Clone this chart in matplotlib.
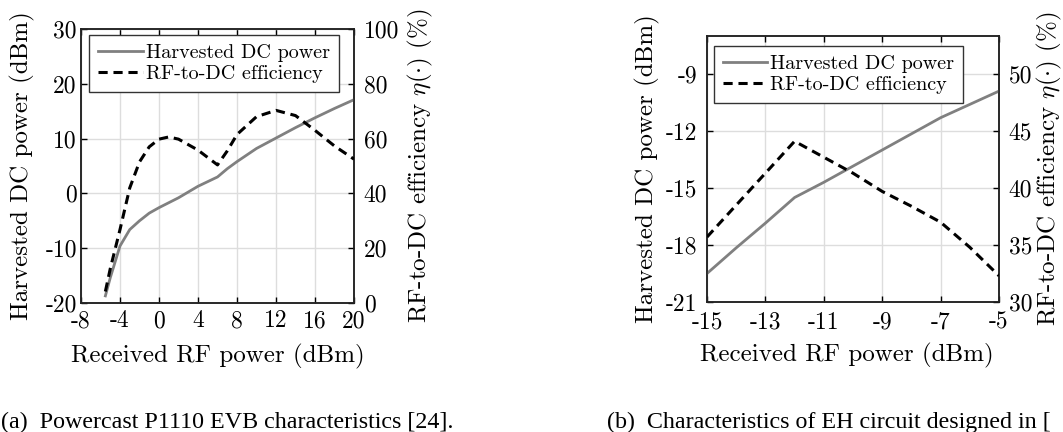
import matplotlib
matplotlib.use('Agg')
import matplotlib.pyplot as plt

# Fuentes tipo LaTeX para los ejes y Times para los pies de figura.
plt.rcParams['font.family'] = 'cmr10'
plt.rcParams['mathtext.fontset'] = 'cm'
plt.rcParams['axes.unicode_minus'] = False
plt.rcParams['axes.formatter.use_mathtext'] = True

# (a) Powercast P1110 EVB
rf_a = [-5.5, -5, -4, -3, -2, -1, 0, 1, 2, 4, 6, 7, 8, 10, 12, 14, 16, 18, 20]
dc_a = [-18.7, -15.4, -9.6, -6.6, -5.0, -3.6, -2.6, -1.7, -0.8, 1.3, 3.0, 4.5,
        5.8, 8.2, 10.1, 12.0, 13.8, 15.5, 17.1]
eff_a = [4.2, 12.5, 26.8, 42.0, 51.5, 57.0, 59.8, 60.6, 59.8, 55.8, 50.4, 55.5,
         61.5, 68.0, 70.3, 68.4, 63.0, 57.3, 52.5]

# (b) Circuito EH
rf_b = [-15, -14, -13, -12, -11, -10, -9, -8, -7, -6, -5]
dc_b = [-19.5, -18.15, -16.85, -15.5, -14.7, -13.85, -13.0, -12.15, -11.3, -10.6, -9.9]
eff_b = [35.7, 38.5, 41.3, 44.1, 42.7, 41.3, 39.7, 38.4, 37.0, 34.8, 32.3]

xticks_a = [-8, -4, 0, 4, 8, 12, 16, 20]
yticks_a = [-20, -10, 0, 10, 20, 30]
effticks_a = [0, 20, 40, 60, 80, 100]
xticks_b = [-15, -13, -11, -9, -7, -5]
yticks_b = [-21, -18, -15, -12, -9]
effticks_b = [30, 35, 40, 45, 50]

etiqueta_x = 'Received RF power (dBm)'
etiqueta_dc = 'Harvested DC power (dBm)'
etiqueta_eff = r'RF-to-DC efficiency $\eta(\cdot)$ (%)'
leyendas = ['Harvested DC power', 'RF-to-DC efficiency']
pie_a = '(a)  Powercast P1110 EVB characteristics [24].'
# El pie (b) aparece recortado en el borde derecho de la imagen original.
pie_b = '(b)  Characteristics of EH circuit designed in ['

GRIS = '#808080'
TAM_TICK = 17
TAM_ETIQ = 18


def dibujar_panel(fig, pos, rf, dc, eff, xticks, yticks, effticks, ylim, efflim,
                  pad_y, pad_x, coords_izq, coords_der, coords_x, pos_leyenda):
    ax = fig.add_axes(pos)
    ax2 = ax.twinx()

    linea_dc, = ax.plot(rf, dc, color=GRIS, lw=2.0, zorder=3)
    linea_eff, = ax2.plot(rf, eff, color='black', lw=2.2, ls=(0, (3.0, 1.9)), zorder=3)

    ax.set_xlim(xticks[0], xticks[-1])
    ax.set_ylim(*ylim)
    ax2.set_ylim(*efflim)
    ax.set_xticks(xticks)
    ax.set_xticklabels([str(v) for v in xticks])
    ax.set_yticks(yticks)
    ax.set_yticklabels([str(v) for v in yticks])
    ax2.set_yticks(effticks)
    ax2.set_yticklabels([str(v) for v in effticks])

    ax.grid(True, color='#dddddd', lw=1.0)
    ax.set_axisbelow(True)
    for a in (ax, ax2):
        for s in a.spines.values():
            s.set_linewidth(1.1)
            s.set_color('#222222')
    ax.tick_params(axis='x', direction='in', top=True, length=4, width=1,
                   labelsize=TAM_TICK, pad=pad_x)
    ax.tick_params(axis='y', direction='in', right=False, length=4, width=1,
                   labelsize=TAM_TICK, pad=pad_y[0])
    ax2.tick_params(axis='y', direction='in', length=4, width=1,
                    labelsize=TAM_TICK, pad=pad_y[1])

    ax.set_xlabel(etiqueta_x, fontsize=TAM_ETIQ)
    ax.set_ylabel(etiqueta_dc, fontsize=TAM_ETIQ)
    ax2.set_ylabel(etiqueta_eff, fontsize=TAM_ETIQ)
    ax.xaxis.set_label_coords(*coords_x)
    ax.yaxis.set_label_coords(*coords_izq)
    ax2.yaxis.set_label_coords(*coords_der)

    leg = ax2.legend([linea_dc, linea_eff], leyendas, loc='upper left',
                     bbox_to_anchor=pos_leyenda, fontsize=14.5, frameon=True,
                     fancybox=False, framealpha=1, edgecolor='#333333',
                     handlelength=2.2, handletextpad=0.15, labelspacing=0.15,
                     borderpad=0.45, borderaxespad=0)
    leg.get_frame().set_linewidth(1.0)
    return ax, ax2


fig = plt.figure(figsize=(10.63, 4.32), dpi=100)

dibujar_panel(fig, [81 / 1063, 1 - 303 / 432, 273 / 1063, 274 / 432],
              rf_a, dc_a, eff_a, xticks_a, yticks_a, effticks_a,
              (-20, 30), (0, 100), (3, 7), 5,
              (-0.168, 0.5), (1.19, 0.5), (0.5, -0.15), (0.03, 0.978))

dibujar_panel(fig, [707 / 1063, 1 - 302 / 432, 292 / 1063, 266 / 432],
              rf_b, dc_b, eff_b, xticks_b, yticks_b, effticks_b,
              (-21, -7), (30, 30 + 14 * 5 / 3), (7, 7), 7,
              (-0.161, 0.5), (1.123, 0.5), (0.48, -0.155), (0.024, 0.962))

fig.text(0.001, 1 - 428 / 432, pie_a, fontsize=17.3, family='Liberation Serif',
         ha='left', va='baseline')
fig.text(607 / 1063, 1 - 428 / 432, pie_b, fontsize=17.3, family='Liberation Serif',
         ha='left', va='baseline')

fig.savefig('out.png', dpi=100)
plt.close(fig)
